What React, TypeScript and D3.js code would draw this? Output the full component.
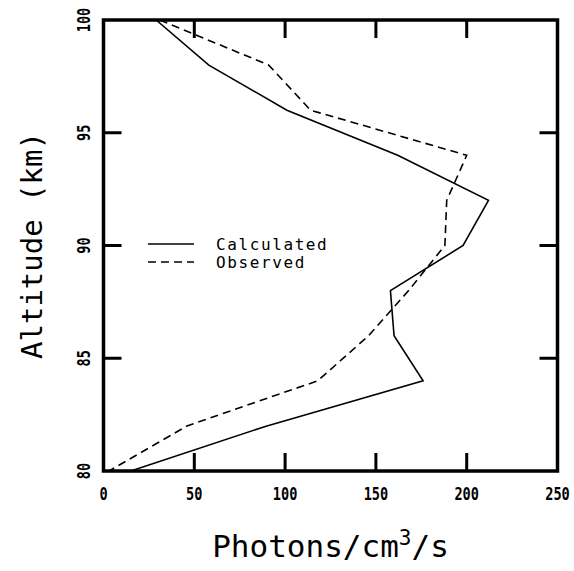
import React from "react";
import * as d3 from "d3";

// altitude levels (km) shared by both profiles
const altitudes = [100, 98, 96, 94, 92, 90, 88, 86, 84, 82, 80];
const calculated = [29, 58, 101, 162, 212, 198, 158, 160, 176, 90, 15];
const observed = [31, 91, 114, 200, 189, 188, 168, 146, 118, 46, 3];

const xTicks = [0, 50, 100, 150, 200, 250];
const yTicks = [80, 85, 90, 95, 100];
const legendItems = [
  { label: "Calculated", dash: "none" },
  { label: "Observed", dash: "8,5" },
];

const W = 574;
const H = 571;
const margin = { left: 103.5, right: 16.5, top: 20, bottom: 100 };
const mono = "'DejaVu Sans Mono', monospace";

export default function App() {
  const x = d3.scaleLinear().domain([0, 250]).range([margin.left, W - margin.right]);
  const y = d3.scaleLinear().domain([80, 100]).range([H - margin.bottom, margin.top]);

  const line = d3
    .line<[number, number]>()
    .x((d) => x(d[0]))
    .y((d) => y(d[1]));

  const calcPts = altitudes.map((a, i) => [calculated[i], a] as [number, number]);
  const obsPts = altitudes.map((a, i) => [observed[i], a] as [number, number]);

  const [x0, x1] = x.range();
  const [y0, y1] = y.range();
  const tickLen = 18;

  return (
    <svg
      width={W}
      height={H}
      style={{ position: "absolute", left: 0, top: 0, background: "#fff" }}
    >
      {/* data */}
      <path d={line(calcPts) || ""} fill="none" stroke="#000" strokeWidth={1.6} />
      <path
        d={line(obsPts) || ""}
        fill="none"
        stroke="#000"
        strokeWidth={1.6}
        strokeDasharray="8,5"
      />

      {/* ticks on all four sides, pointing inward */}
      {xTicks.slice(1, -1).map((t) => (
        <g key={"xt" + t}>
          <line x1={x(t)} x2={x(t)} y1={y0} y2={y0 - tickLen} stroke="#000" strokeWidth={3} />
          <line x1={x(t)} x2={x(t)} y1={y1} y2={y1 + tickLen} stroke="#000" strokeWidth={3} />
        </g>
      ))}
      {yTicks.slice(1, -1).map((t) => (
        <g key={"yt" + t}>
          <line x1={x0} x2={x0 + tickLen} y1={y(t)} y2={y(t)} stroke="#000" strokeWidth={3} />
          <line x1={x1} x2={x1 - tickLen} y1={y(t)} y2={y(t)} stroke="#000" strokeWidth={3} />
        </g>
      ))}

      {/* frame */}
      <rect
        x={x0}
        y={y1}
        width={x1 - x0}
        height={y0 - y1}
        fill="none"
        stroke="#000"
        strokeWidth={3.5}
      />

      {/* tick labels (condensed look) */}
      {xTicks.map((t) => (
        <text
          key={"xl" + t}
          transform={`translate(${x(t)},500) scale(0.85,1.15)`}
          textAnchor="middle"
          fontFamily={mono}
          fontWeight="bold"
          fontSize={16}
        >
          {t}
        </text>
      ))}
      {yTicks.map((t) => (
        <text
          key={"yl" + t}
          transform={`translate(90,${y(t)}) rotate(-90) scale(0.85,1.15)`}
          textAnchor="middle"
          fontFamily={mono}
          fontWeight="bold"
          fontSize={16}
        >
          {t}
        </text>
      ))}

      {/* axis titles */}
      <text
        x={(x0 + x1) / 2}
        y={557}
        textAnchor="middle"
        fontFamily={mono}
        fontSize={31}
      >
        Photons/cm
        <tspan fontSize={21} dy={-12}>3</tspan>
        <tspan dy={12}>/s</tspan>
      </text>
      <text
        transform={`translate(42,${(y0 + y1) / 2}) rotate(-90)`}
        textAnchor="middle"
        fontFamily={mono}
        fontSize={29}
      >
        Altitude (km)
      </text>

      {/* legend */}
      {legendItems.map((d, i) => (
        <g key={d.label} transform={`translate(148,${244 + i * 18})`}>
          <line
            x1={0}
            x2={46}
            y1={0}
            y2={0}
            stroke="#000"
            strokeWidth={1.6}
            strokeDasharray={d.dash}
          />
          <text
            x={68}
            y={6}
            fontFamily={mono}
            fontSize={16}
            letterSpacing={1.6}
          >
            {d.label}
          </text>
        </g>
      ))}
    </svg>
  );
}
